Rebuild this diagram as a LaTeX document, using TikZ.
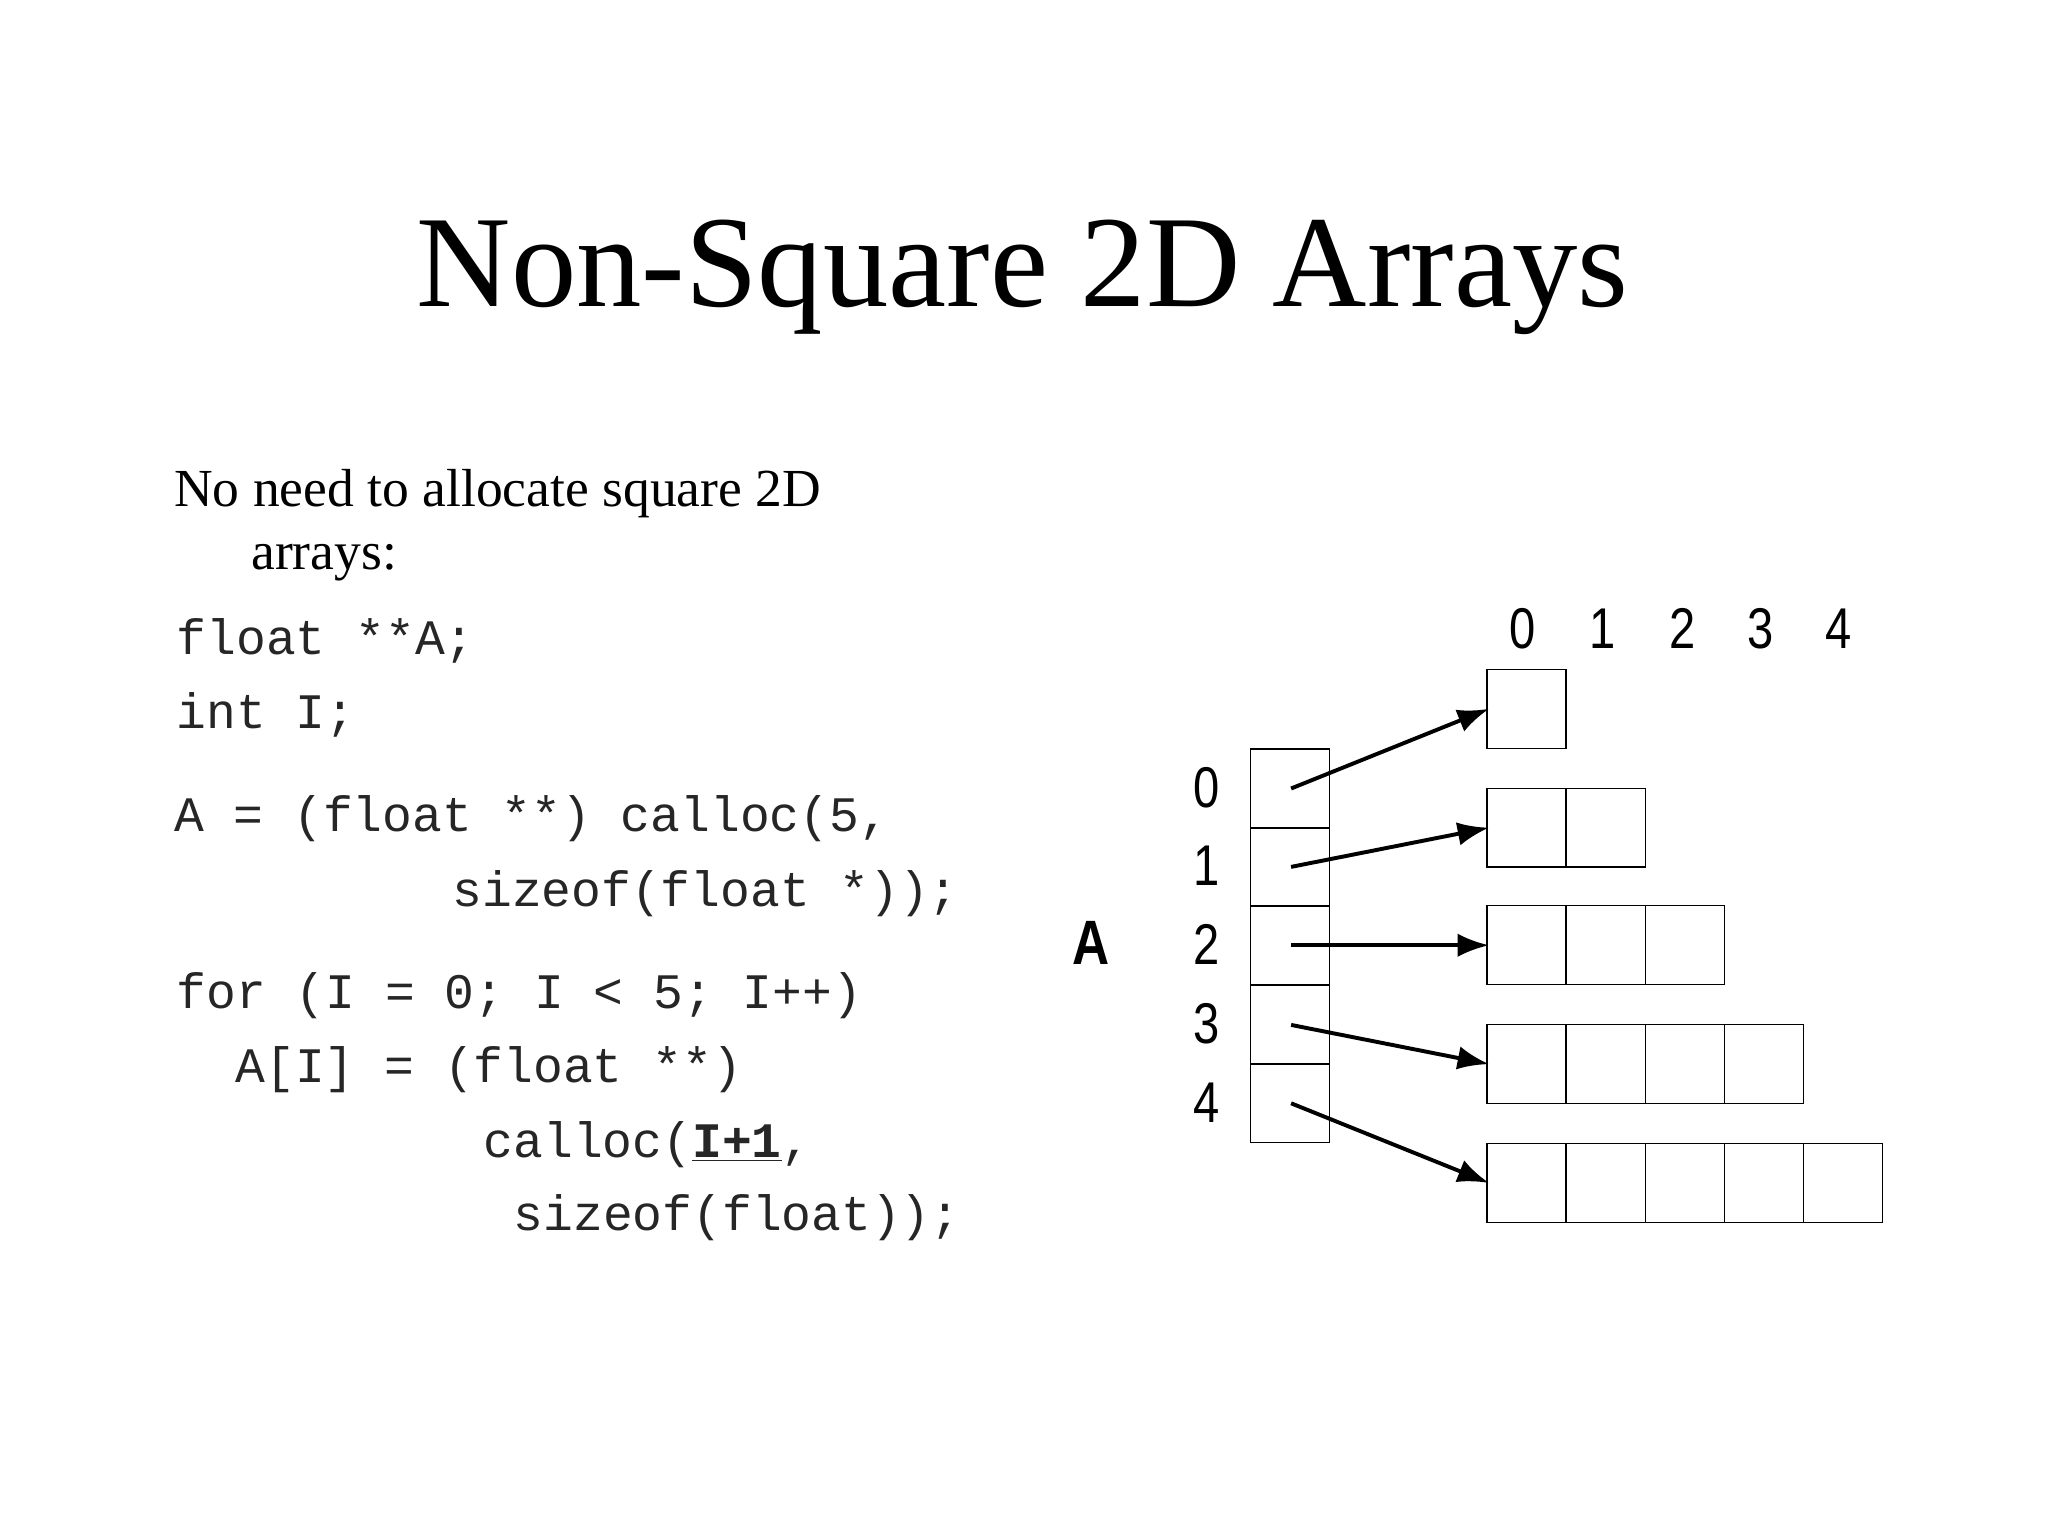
\documentclass[tikz,border=0pt]{standalone}
\usepackage{fontspec}
\setmainfont{Liberation Serif}
\setmonofont{Liberation Mono}
\newfontfamily\numfont{Liberation Sans}
\usetikzlibrary{arrows.meta}
\begin{document}
\begin{tikzpicture}[x=0.5pt,y=-0.5pt,
  cell/.style={draw,line width=0.5pt,minimum width=30.25pt,minimum height=30.2pt,inner sep=0pt,anchor=north west},
  code/.style={anchor=west,inner sep=0pt,font=\fontsize{19}{22}\ttfamily,text=black!85},
  body/.style={anchor=west,inner sep=0pt,font=\fontsize{20.5}{24}\selectfont},
  num/.style={inner sep=0pt,font=\fontsize{22}{24}\numfont,xscale=0.82},
  ptr/.style={-{Latex[length=12pt,width=9pt]},line width=1.5pt}]
\useasboundingbox (0,0) rectangle (1568,1176);
\node[inner sep=0pt,font=\fontsize{50}{56}\selectfont] (title) at (783,212) {Non-Square 2D Arrays};
\node[body] (t1) at (133,378) {No need to allocate square 2D};
\node[body] (t2) at (192,431) {arrays:};
\node[code] (c1) at (135,491) {float **A;};
\node[code] (c2) at (135,547) {int I;};
\node[code] (c3) at (133,627) {A = (float **) calloc(5,};
\node[code] (c4) at (346,684) {sizeof(float *));};
\node[code] (c5) at (135,762) {for (I = 0; I < 5; I++)};
\node[code] (c6) at (180,819) {A[I] = (float **)};
\node[code] (c7) at (370,876) {calloc(\textbf{\underline{I+1}},};
\node[code] (c8) at (393,932) {sizeof(float));};
\node[num,font=\fontsize{24}{26}\numfont\bfseries] (Alab) at (835,722) {A};
\foreach \i/\y in {0/573,1/633,2/693,3/754,4/814}{
  \node[cell] (p\i) at (957,\y) {};
  \node[num] (r\i) at (924,\y+30) {\i};
}
\foreach \i/\x in {0/1166,1/1227,2/1288,3/1348,4/1408}
  \node[num] (col\i) at (\x,481) {\i};
\foreach \r/\y in {0/512,1/603,2/693,3/784,4/875}{
  \foreach \c in {0,...,\r}{
    \node[cell] (b\r\c) at ({1138+60.6*\c},\y) {};
  }
  \draw[ptr] ([xshift=-15pt]p\r.east) -- ([xshift=1pt]b\r0.west);
}
\end{tikzpicture}
\end{document}
